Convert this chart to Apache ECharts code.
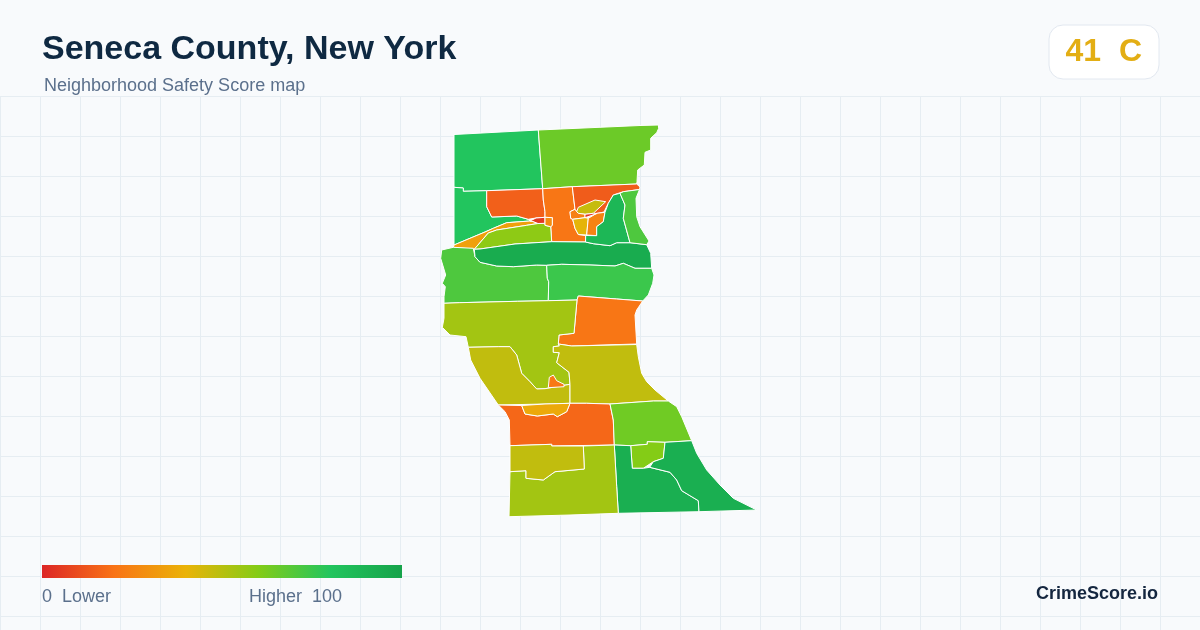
<!DOCTYPE html>
<html>
<head>
<meta charset="utf-8">
<title>Seneca County, New York</title>
<script src="https://cdn.jsdelivr.net/npm/echarts@6/dist/echarts.min.js"></script>
<style>
  html, body { margin: 0; padding: 0; background: #f8fafc; }
  #chart { width: 1200px; height: 630px; }
</style>
</head>
<body>
<div id="chart"></div>
<script>
const titleText = "Seneca County, New York"
const subtitleText = "Neighborhood Safety Score map"
const gradeText = "41  C"
const brandText = "CrimeScore.io"
const legendLow = "0  Lower"
const legendHigh = "Higher  100"

const legendColors = ["#dc2626", "#f97316", "#eab308", "#84cc16", "#22c55e", "#16a34a"]

const tractNames = [
  "North West", "North East", "West Central", "Waterloo North", "Seneca Falls", "Canal Strip",
  "Canal South", "Lakeshore West", "Lake Band", "Lakeshore East", "Fayette East", "Varick",
  "Romulus West", "Sampson", "Romulus East", "Ovid North", "Ovid Strip", "Lodi North",
  "Lodi Inner", "Lodi South", "Lodi East", "Covert", "Interlaken", "Waterloo East",
  "Waterloo Core", "Center Box", "Center Yellow", "Center Orange", "Center Dot", "Tyre South",
  "Junius", "Mill Red", "Mill Orange"
]

const tractScores = [
  80, 65, 80, 15, 21, 34,
  58, 71, 95, 75, 21, 54,
  48, 22, 48, 17, 37, 64,
  60, 93, 93, 54, 48, 14,
  47, 24, 41, 25, 4, 88,
  71, 5, 28
]

// traced tract outlines, in map units
const tractOutlines = [
  [[454,134.5],[538.3,130],[540,153],[542.7,188.7],[486.7,190.7],[463.3,191.3],[463.3,188],[454,187.3]],
  [[538.3,130],[640,125.5],[658.3,125],[658.7,128.3],[656.7,132.7],[650.7,138.3],[650.7,150],[645,152.3],[644.3,165],[637.7,170],[637,181.7],[636.7,184],[572.3,186.7],[542.7,188.7],[540,153]],
  [[454,187.3],[463.3,188],[463.3,191.3],[486.7,190.7],[486.7,206.7],[491.7,217],[516.7,216],[528.3,219.3],[530,221],[506.7,222.7],[493.3,228.3],[485,232],[454,245]],
  [[486.7,190.7],[542.7,188.7],[543.3,200],[545,211.7],[545,217.3],[536,218],[528.3,219.3],[516.7,216],[491.7,217],[486.7,206.7]],
  [[542.7,188.7],[572.3,186.7],[575,209.3],[570,211.7],[570.7,218.3],[572.7,219.3],[575,228.3],[578.3,234.5],[585.7,235.5],[585.5,242],[551.7,241.7],[550.7,226.7],[552.3,225.3],[552.3,217.7],[545,217.3],[545,211.7],[543.3,200]],
  [[454,245],[485,232],[493.3,228.3],[506.7,222.7],[530,221],[533,221.5],[538,223.5],[526.7,225.3],[496.7,230],[488.3,233],[474.3,249.3],[473.3,248.3],[453.3,247.3]],
  [[488.3,233],[496.7,230],[526.7,225.3],[538,223.5],[545,223.3],[545,225.3],[550.7,226.7],[551.7,241.7],[515,244],[480,249],[474.3,249.3]],
  [[441.7,250],[453.3,247.3],[473.3,248.3],[474.3,249.3],[475,256.7],[480,262.3],[496.7,266],[513.3,266.7],[536.7,265],[546.7,265.3],[547.3,278.3],[548.7,281.7],[548.3,300.7],[517.3,301.3],[459.3,302.7],[444,303.3],[444,296.7],[445.3,286.7],[442.3,283.3],[445.7,275],[440.7,258.3]],
  [[474.3,249.3],[480,249],[515,244],[551.7,241.7],[585.5,242],[593.3,243.7],[610,245.7],[616.7,242.7],[630,242.7],[646.7,244.7],[650.7,253.3],[651.7,268.3],[635,268.3],[623.3,263.3],[615,266],[590,265],[561.7,264.3],[546.7,265.3],[536.7,265],[513.3,266.7],[496.7,266],[480,262.3],[475,256.7]],
  [[546.7,265.3],[561.7,264.3],[590,265],[615,266],[623.3,263.3],[635,268.3],[651.7,268.3],[654,275],[652.7,283.3],[648.3,295],[642.7,301],[616.7,299],[578.3,296],[577,300],[548.3,300.7],[548.7,281.7],[547.3,278.3]],
  [[578.3,296],[616.7,299],[642.7,301],[636.7,310],[635,315],[636.7,344],[571.7,346],[558.3,344],[559,335],[574,333.3],[577,300]],
  [[444,303.3],[459.3,302.7],[517.3,301.3],[548.3,300.7],[577,300],[574,333.3],[559,335],[558.3,344],[559.3,346],[553.3,346.7],[553.3,352.3],[559.3,352.7],[556.7,362.7],[569,372.3],[570,384.3],[545,388.7],[536.7,389],[530,381.7],[521.7,373.3],[516.7,355],[510,346.7],[498.3,346.7],[468.3,347.3],[466,336.7],[450,335],[442.3,327.3],[444,318.3]],
  [[468.3,347.3],[498.3,346.7],[510,346.7],[516.7,355],[521.7,373.3],[530,381.7],[536.7,389],[545,388.7],[570,384.3],[570,403.3],[545,404],[498.3,405],[480,378.3],[470.7,360]],
  [[548.3,387.7],[549.3,377.3],[553.3,375],[556.7,380.7],[564,384.3],[564,386.7]],
  [[559.3,346],[558.3,344],[571.7,346],[636.7,344.5],[638.3,356.7],[641.7,373.3],[646.7,381.7],[655,390],[668.3,401],[653.3,401],[610,404],[586.7,403.3],[570,403.3],[570,384.3],[569,372.3],[556.7,362.7],[559.3,352.7],[553.3,352.3],[553.3,346.7]],
  [[498.3,405],[521.7,405.5],[525,414],[537.3,416],[553.3,414],[557.3,416.7],[566.7,411.7],[570,403.3],[586.7,403.3],[610,404],[613.3,420],[614.3,445],[551.7,446],[551.7,444.3],[510,445.7],[509.3,420],[505,411.7]],
  [[521.7,405.5],[545,404],[570,403.3],[566.7,411.7],[557.3,416.7],[553.3,414],[537.3,416],[525,414]],
  [[610,404],[653.3,401],[668.3,401],[676.7,406.7],[681.7,416.7],[691.7,440.7],[665,442.3],[647.3,441.7],[647.3,444.3],[630.7,445.7],[614.3,445],[613.3,420]],
  [[630.7,445.7],[647.3,444.3],[647.3,441.7],[665,442.3],[663.3,458.3],[653.3,461.7],[643.3,468.3],[632.3,468.3]],
  [[614.3,445],[630.7,445.7],[632.3,468.3],[643.3,468.3],[649.7,467.3],[670,472.3],[676.7,480],[681.7,490.7],[698.3,500.7],[699,511.7],[618.3,513.3],[616.7,486.7]],
  [[665,442.3],[691.7,440.7],[696.7,453.3],[706.7,470],[720,485],[733.3,498.3],[756.7,510],[699,511.7],[698.3,500.7],[681.7,490.7],[676.7,480],[670,472.3],[649.7,467.3],[653.3,461.7],[663.3,458.3]],
  [[510,471.7],[526,470.7],[526,478.3],[543.3,480],[555,471.7],[584.3,469],[583.3,446],[614.3,445],[616.7,486.7],[618.3,513.3],[570,515],[509,516.7]],
  [[510,445.7],[551.7,444.3],[551.7,446],[583.3,446],[584.3,469],[555,471.7],[543.3,480],[526,478.3],[526,470.7],[510,471.7]],
  [[572.3,186.7],[636.7,184],[640,187],[639.5,189.5],[623.3,191.7],[613.3,195],[608.3,203.3],[604,212],[597,213.5],[590,216],[585,217.7],[585,214.3],[578.3,213.3],[576.7,211.7],[575,209.3]],
  [[576.7,211.7],[578.3,207.3],[595,200],[605.7,201.7],[593.3,213.3],[585,214.3],[578.3,213.3]],
  [[570,211.7],[575,209.3],[576.7,211.7],[578.3,213.3],[585,214.3],[585,217.7],[572.7,219.3],[570.7,218.3]],
  [[572.7,219.3],[585,217.7],[588.3,218.3],[587.7,224],[586.7,235],[578.3,234.5],[575,228.3]],
  [[588.3,218.3],[596.7,213.3],[605,212.3],[603.3,221.7],[596.7,226.7],[596.7,235.7],[586.7,235],[587.7,224]],
  [[585,217.7],[590,216],[597,213.5],[593.3,213.3],[585,214.3]],
  [[620,193.3],[625,205],[623.3,218.3],[630,242.7],[616.7,242.7],[610,245.7],[593.3,243.7],[585.5,242],[585.7,235.5],[596.7,235.7],[596.7,226.7],[603.3,221.7],[605,212.3],[608.3,203.3],[613.3,195]],
  [[620,193.3],[623.3,191.7],[639.5,189.5],[636,198.3],[636.7,216.7],[640,226.7],[649,241],[646.7,244.7],[630,242.7],[623.3,218.3],[625,205]],
  [[536,218],[545,217.3],[545,223.3],[538,223.5],[533,221.5],[530,221]],
  [[545,217.3],[552.3,217.7],[552.3,225.3],[550.7,226.7],[545,225.3],[545,223.3]]
]

const tractFeatures = tractOutlines.map((ring, i) => ({
  type: "Feature",
  properties: { name: tractNames[i] },
  geometry: { type: "Polygon", coordinates: [ring.concat([ring[0]])] }
}))

echarts.registerMap("seneca", { type: "FeatureCollection", features: tractFeatures })

const sans = '"Liberation Sans", Arial, sans-serif'
const chart = echarts.init(document.getElementById("chart"), null, { renderer: "canvas" })

chart.setOption({
  animation: false,
  backgroundColor: "#f8fafc",
  grid: { left: 0, top: 96, width: 1200, height: 534, show: false },
  xAxis: {
    type: "value", min: 0, max: 1200, interval: 40,
    axisLine: { show: false }, axisTick: { show: false }, axisLabel: { show: false },
    splitLine: { lineStyle: { color: "#e6edf2", width: 1 } }
  },
  yAxis: {
    type: "value", min: 0, max: 534, interval: 40, inverse: true,
    axisLine: { show: false }, axisTick: { show: false }, axisLabel: { show: false },
    splitLine: { lineStyle: { color: "#e6edf2", width: 1 } }
  },
  visualMap: {
    type: "continuous",
    show: false,
    min: 0,
    max: 100,
    seriesIndex: 0,
    inRange: { color: legendColors }
  },
  series: [
    {
      type: "map",
      map: "seneca",
      projection: { project: p => p, unproject: p => p },
      left: 440.7,
      top: 125,
      width: 316,
      height: 391.7,
      roam: false,
      selectedMode: false,
      label: { show: false },
      itemStyle: { borderColor: "#ffffff", borderWidth: 1 },
      emphasis: { disabled: true },
      data: tractNames.map((name, i) => ({ name, value: tractScores[i] }))
    }
  ],
  graphic: {
    elements: [
      { type: "text", z: 10, left: 42, top: 33, style: { text: titleText, fill: "#0f2942", font: "bold 34px " + sans } },
      { type: "text", z: 10, left: 44, top: 77, style: { text: subtitleText, fill: "#5b708c", font: "18px " + sans } },
      { type: "rect", z: 10, left: 1048.5, top: 24.5, shape: { width: 110, height: 54, r: 14 }, style: { fill: "#ffffff", stroke: "#e2e8f0", lineWidth: 1 } },
      { type: "text", z: 11, left: 1065.5, top: 36, style: { text: gradeText, fill: "#e3ae14", font: "bold 32px " + sans } },
      {
        type: "rect", z: 10, left: 42, top: 565, shape: { width: 360, height: 13 },
        style: {
          fill: new echarts.graphic.LinearGradient(0, 0, 1, 0,
            legendColors.map((color, i) => ({ offset: i / (legendColors.length - 1), color })))
        }
      },
      { type: "text", z: 10, left: 42, top: 588, style: { text: legendLow, fill: "#5b708c", font: "18px " + sans } },
      { type: "text", z: 10, left: 249, top: 588, style: { text: legendHigh, fill: "#5b708c", font: "18px " + sans } },
      { type: "text", z: 10, right: 42, top: 585, style: { text: brandText, fill: "#14263f", font: "bold 18px " + sans } }
    ]
  }
})
</script>
</body>
</html>
